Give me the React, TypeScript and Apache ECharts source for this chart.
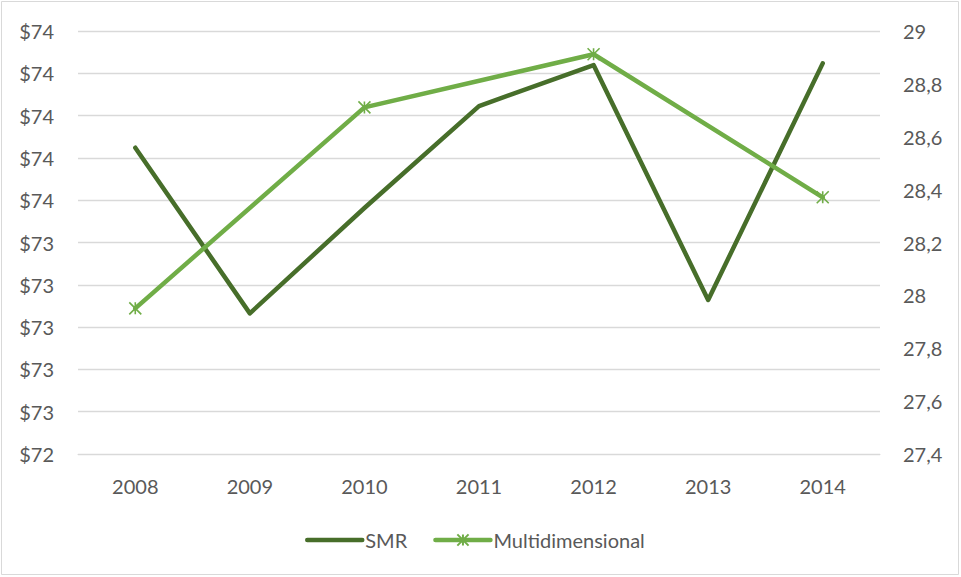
import React, { useEffect, useRef } from "react";
import * as echarts from "echarts";

const categories = ["2008", "2009", "2010", "2011", "2012", "2013", "2014"];
const smrValues = [73.848, 73.065, 73.563, 74.045, 74.239, 73.128, 74.247];
const multiValues: (number | null)[] = [27.951, null, 28.711, null, 28.912, null, 28.371];
const seriesNames = ["SMR", "Multidimensional"];

const FONT = "Lato, 'Noto Sans', sans-serif";
const TEXT = "#595959";
const FS = 20;
const STAR = "path://M0 0L12 12M12 0L0 12M6 0L6 12";

export default function App() {
  const ref = useRef<HTMLDivElement>(null);
  useEffect(() => {
    if (!ref.current) return;
    const chart = echarts.init(ref.current, null, { renderer: "svg" });
    chart.setOption({
      animation: false,
      backgroundColor: "#ffffff",
      graphic: [
        {
          type: "rect",
          shape: { x: 1.5, y: 1.5, width: 957, height: 573 },
          style: { fill: "none", stroke: "#d9d9d9", lineWidth: 1 },
          silent: true,
        },
      ],
      grid: { left: 78, right: 81, top: 31, bottom: 123, containLabel: false },
      legend: {
        bottom: 22,
        left: 300,
        itemWidth: 55,
        itemHeight: 14,
        itemGap: 26,
        lineStyle: { width: 4.5, cap: "round" },
        textStyle: { fontFamily: FONT, fontSize: FS, color: TEXT, padding: [0, 0, 0, -2] },
        data: [
          {
            name: seriesNames[0],
            itemStyle: { color: "rgba(0,0,0,0)", borderWidth: 0, opacity: 0 },
          },
          { name: seriesNames[1] },
        ],
      },
      xAxis: {
        type: "category",
        data: categories,
        boundaryGap: true,
        axisLine: { show: true, lineStyle: { color: "#d9d9d9", width: 1 } },
        axisTick: { show: false },
        axisLabel: { fontFamily: FONT, fontSize: FS, color: TEXT, margin: 22 },
      },
      yAxis: [
        {
          type: "value",
          min: 72.4,
          max: 74.4,
          interval: 0.2,
          axisLine: { show: false },
          axisTick: { show: false },
          splitLine: { lineStyle: { color: "#d9d9d9", width: 1.3 } },
          axisLabel: {
            fontFamily: FONT,
            fontSize: FS,
            color: TEXT,
            margin: 24,
            formatter: (v: number) => "$" + Math.round(v),
          },
        },
        {
          type: "value",
          min: 27.4,
          max: 29,
          interval: 0.2,
          position: "right",
          axisLine: { show: false },
          axisTick: { show: false },
          splitLine: { show: false },
          axisLabel: {
            fontFamily: FONT,
            fontSize: FS,
            color: TEXT,
            margin: 23,
            formatter: (v: number) => String(Math.round(v * 10) / 10).replace(".", ","),
          },
        },
      ],
      series: [
        {
          name: seriesNames[0],
          type: "line",
          yAxisIndex: 0,
          data: smrValues,
          showSymbol: false,
          symbol: "none",
          lineStyle: { color: "#476e2a", width: 4.5, cap: "round", join: "round" },
          itemStyle: { color: "#476e2a" },
        },
        {
          name: seriesNames[1],
          type: "line",
          yAxisIndex: 1,
          data: multiValues,
          connectNulls: true,
          showSymbol: true,
          symbol: STAR,
          symbolSize: 12,
          lineStyle: { color: "#70ad47", width: 4.5, cap: "round", join: "round" },
          itemStyle: { color: "#70ad47", borderColor: "#70ad47", borderWidth: 1.6 },
        },
      ],
    });
    return () => chart.dispose();
  }, []);
  return (
    <div
      ref={ref}
      style={{ position: "fixed", left: 0, top: 0, width: 961, height: 577 }}
    />
  );
}
